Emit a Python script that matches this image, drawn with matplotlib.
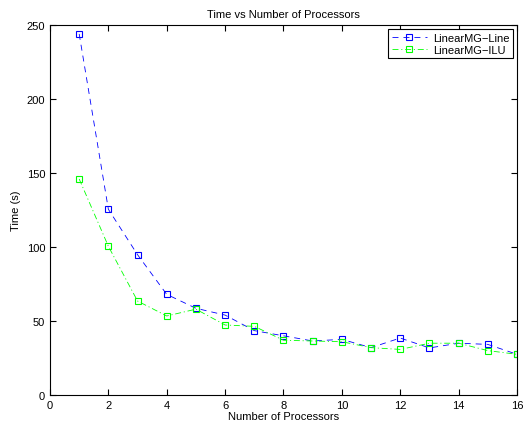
import numpy as np
import matplotlib.pyplot as plt

plt.rcParams['font.family'] = ['Liberation Sans', 'DejaVu Sans']
plt.rcParams['lines.scale_dashes'] = False

procs = np.arange(1, 17)
line_times = [244, 125.5, 94.8, 68, 58.6, 54, 43.5, 40, 36.5, 37.6, 32, 38.5, 31.8, 35, 34.2, 27.5]
ilu_times = [146, 100.5, 63.5, 53.4, 58, 47.3, 46.4, 37, 36.5, 36, 32, 30.8, 35, 35, 30, 27.5]

fig = plt.figure(figsize=(5.24, 4.27), dpi=100)
ax = fig.add_axes([0.0954, 0.0726, 0.8912, 0.8664])

ax.plot(procs, line_times, color=(0, 0, 1), linestyle=(0, (4.3, 3.6)), linewidth=0.6,
        marker='s', markersize=4.5, markerfacecolor='none', markeredgewidth=0.8,
        label='LinearMG\u2212Line')
ax.plot(procs, ilu_times, color=(0, 1, 0), linestyle=(0, (4.3, 2, 0.8, 2)), linewidth=0.6,
        marker='s', markersize=4.5, markerfacecolor='none', markeredgewidth=0.8,
        label='LinearMG\u2212ILU')

ax.set_xlim(0, 16)
ax.set_ylim(0, 250)
ax.set_xticks(range(0, 17, 2))
ax.set_yticks(range(0, 251, 50))
ax.tick_params(direction='in', top=True, right=True, labelsize=8, length=4, width=0.8)
for s in ax.spines.values():
    s.set_linewidth(0.8)

ax.set_title('Time vs Number of Processors', fontsize=8)
ax.set_xlabel('Number of Processors', fontsize=8, labelpad=1)
ax.set_ylabel('Time (s)', fontsize=8)

leg = ax.legend(loc='upper right', fontsize=8, fancybox=False, framealpha=1,
                edgecolor='black', borderaxespad=0.4, handlelength=3.2,
                borderpad=0.3, labelspacing=0.2, handletextpad=0.5)
leg.get_frame().set_linewidth(0.8)

fig.savefig('out.png', dpi=100)
